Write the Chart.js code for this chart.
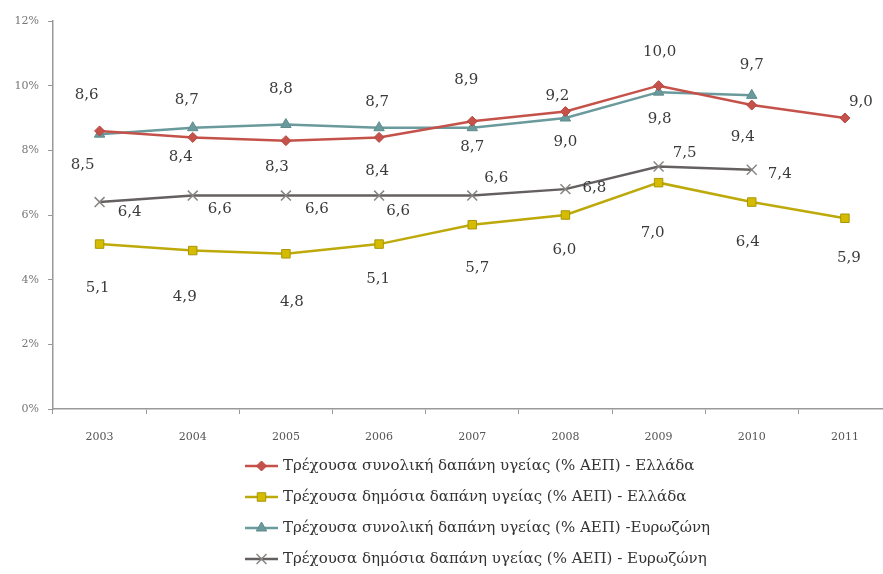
<!DOCTYPE html>
<html>
<head>
<meta charset="utf-8">
<script src="https://cdn.jsdelivr.net/npm/chart.js@4/dist/chart.umd.min.js"></script>
<style>
  body { margin: 0; overflow: hidden; background: #fff; }
  #wrap { width: 900px; height: 574px; }
</style>
</head>
<body>
<div id="wrap"><canvas id="myChart" width="900" height="574"></canvas></div>
<script>
const years = ['2003', '2004', '2005', '2006', '2007', '2008', '2009', '2010', '2011'];
const greeceTotal = [8.6, 8.4, 8.3, 8.4, 8.9, 9.2, 10.0, 9.4, 9.0];
const greecePublic = [5.1, 4.9, 4.8, 5.1, 5.7, 6.0, 7.0, 6.4, 5.9];
const euroTotal = [8.5, 8.7, 8.8, 8.7, 8.7, 9.0, 9.8, 9.7, null];
const euroPublic = [6.4, 6.6, 6.6, 6.6, 6.6, 6.8, 7.5, 7.4, null];
const seriesNames = [
  'Τρέχουσα συνολική δαπάνη υγείας (% ΑΕΠ) - Ελλάδα',
  'Τρέχουσα δημόσια δαπάνη υγείας (% ΑΕΠ) - Ελλάδα',
  'Τρέχουσα συνολική δαπάνη υγείας (% ΑΕΠ) -Ευρωζώνη',
  'Τρέχουσα δημόσια δαπάνη υγείας (% ΑΕΠ) - Ευρωζώνη'
];

// where each value label sits relative to its point (dx, dy)
const labelShift = [
  [[-13,-36],[-12,20],[-9,26],[-2,34],[-6,-41],[-8,-15],[1,-34],[-9,32],[16,-16]],
  [[-2,44],[-8,47],[6,48],[-1,35],[5,43],[-1,35],[-6,50],[-4,40],[4,40]],
  [[-17,31],[-6,-28],[-5,-35],[-2,-26],[0,19],[0,24],[1,27],[0,-30]],
  [[30,10],[27,14],[31,14],[19,16],[24,-17],[29,-1],[26,-13],[28,4]]
];

const serif = "'DejaVu Serif', 'Liberation Serif', serif";

const valueLabels = {
  id: 'valueLabels',
  afterDatasetsDraw(chart) {
    const ctx = chart.ctx;
    ctx.save();
    ctx.font = '15px ' + serif;
    ctx.fillStyle = '#3a3a3a';
    ctx.textAlign = 'center';
    ctx.textBaseline = 'middle';
    chart.data.datasets.forEach((ds, i) => {
      const meta = chart.getDatasetMeta(i);
      meta.data.forEach((pt, j) => {
        const v = ds.data[j];
        if (v == null) return;
        const s = labelShift[i][j] || [0, -15];
        ctx.fillText(v.toFixed(1).replace('.', ','), pt.x + s[0], pt.y + s[1]);
      });
    });
    ctx.restore();
  }
};

const sideLegend = {
  id: 'sideLegend',
  afterDraw(chart) {
    const ctx = chart.ctx;
    const rows = [466, 497, 528, 559];
    ctx.save();
    chart.data.datasets.forEach((ds, i) => {
      const y = rows[i];
      ctx.strokeStyle = ds.borderColor;
      ctx.lineWidth = 2.5;
      ctx.beginPath();
      ctx.moveTo(245, y);
      ctx.lineTo(278, y);
      ctx.stroke();
      ctx.fillStyle = ds.pointBackgroundColor;
      ctx.strokeStyle = ds.pointBorderColor;
      ctx.lineWidth = ds.pointBorderWidth;
      Chart.helpers.drawPoint(ctx, {
        pointStyle: ds.pointStyle,
        radius: ds.pointRadius,
        rotation: 0,
        borderWidth: ds.pointBorderWidth
      }, 261.5, y);
      ctx.font = '15px ' + serif;
      ctx.fillStyle = '#333';
      ctx.textAlign = 'left';
      ctx.textBaseline = 'middle';
      ctx.fillText(ds.label, 283, y);
    });
    ctx.restore();
  }
};

new Chart(document.getElementById('myChart'), {
  type: 'line',
  data: {
    labels: years,
    datasets: [
      {
        label: seriesNames[0], data: greeceTotal,
        borderColor: '#C5524A', borderWidth: 2.5,
        pointStyle: 'rectRot', pointRadius: 5,
        pointBackgroundColor: '#C5524A', pointBorderColor: '#B8463F', pointBorderWidth: 1
      },
      {
        label: seriesNames[1], data: greecePublic,
        borderColor: '#BDAA0A', borderWidth: 2.5,
        pointStyle: 'rect', pointRadius: 6,
        pointBackgroundColor: '#D6BC00', pointBorderColor: '#A8960A', pointBorderWidth: 1
      },
      {
        label: seriesNames[2], data: euroTotal,
        borderColor: '#6A9A9C', borderWidth: 2.5,
        pointStyle: 'triangle', pointRadius: 6,
        pointBackgroundColor: '#6A9A9C', pointBorderColor: '#5E8C8E', pointBorderWidth: 1
      },
      {
        label: seriesNames[3], data: euroPublic,
        borderColor: '#656060', borderWidth: 2.5,
        pointStyle: 'crossRot', pointRadius: 7,
        pointBackgroundColor: '#8a8585', pointBorderColor: '#8a8585', pointBorderWidth: 1.5
      }
    ]
  },
  options: {
    responsive: false,
    animation: false,
    devicePixelRatio: 1,
    layout: { padding: { top: 21, right: 8, bottom: 120, left: 0 } },
    plugins: {
      legend: { display: false },
      tooltip: { enabled: false }
    },
    scales: {
      x: {
        offset: true,
        grid: { offset: true, drawOnChartArea: false, drawTicks: true, tickLength: 5, color: '#999' },
        border: { display: true, color: '#999', width: 1.5 },
        ticks: { padding: 17, color: '#555', font: { family: serif, size: 11 }, maxRotation: 0 },
        afterFit(scale) { scale.height = 45; }
      },
      y: {
        min: 0, max: 12,
        grid: { drawOnChartArea: false, drawTicks: true, tickLength: 5, color: '#999' },
        border: { display: true, color: '#999', width: 1.5 },
        ticks: {
          stepSize: 2, padding: 9, color: '#777',
          font: { family: serif, size: 11 },
          callback: v => v + '%'
        },
        afterFit(scale) { scale.width = 53; }
      }
    }
  },
  plugins: [valueLabels, sideLegend]
});
</script>
</body>
</html>
